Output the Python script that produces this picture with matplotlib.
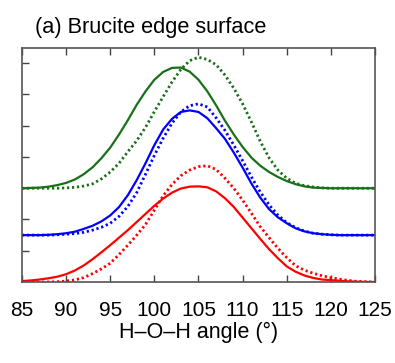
import numpy as np
import matplotlib
matplotlib.use('Agg')
import matplotlib.pyplot as plt

plt.rcParams['font.family'] = ['Liberation Sans', 'DejaVu Sans']

# H-O-H angle grid (degrees)
angle = list(range(85, 126))

# distributions, offset vertically (red 0, blue 1.5, green 3)
green_solid = [3.00, 3.01, 3.02, 3.05, 3.10, 3.17, 3.28, 3.45, 3.67, 3.96,
               4.30, 4.72, 5.18, 5.67, 6.10, 6.47, 6.72, 6.85, 6.86, 6.73,
               6.47, 6.10, 5.65, 5.16, 4.72, 4.32, 3.98, 3.72, 3.52, 3.36,
               3.23, 3.13, 3.06, 3.02, 3.01, 3.00, 3.00, 3.00, 3.00, 3.00, 3.00]
green_dot = [3.00, 3.00, 3.00, 3.00, 3.00, 3.01, 3.03, 3.07, 3.14, 3.30,
             3.52, 3.80, 4.17, 4.52, 4.95, 5.45, 5.93, 6.40, 6.80, 7.08,
             7.19, 7.12, 6.95, 6.62, 6.20, 5.70, 5.12, 4.50, 3.97, 3.58,
             3.32, 3.16, 3.08, 3.04, 3.01, 3.00, 3.00, 3.00, 3.00, 3.00, 3.00]
blue_solid = [1.50, 1.50, 1.50, 1.51, 1.53, 1.56, 1.61, 1.70, 1.80, 1.94,
              2.13, 2.40, 2.78, 3.26, 3.80, 4.38, 4.88, 5.22, 5.44, 5.49,
              5.44, 5.24, 4.92, 4.58, 4.14, 3.66, 3.15, 2.70, 2.33, 2.07,
              1.88, 1.72, 1.62, 1.56, 1.53, 1.51, 1.50, 1.50, 1.50, 1.50, 1.50]
blue_dot = [1.50, 1.50, 1.50, 1.50, 1.51, 1.53, 1.55, 1.59, 1.66, 1.75,
            1.88, 2.10, 2.42, 2.86, 3.45, 4.05, 4.60, 5.08, 5.44, 5.64,
            5.70, 5.60, 5.25, 4.85, 4.38, 3.88, 3.36, 2.88, 2.47, 2.14,
            1.90, 1.74, 1.63, 1.56, 1.53, 1.51, 1.50, 1.50, 1.50, 1.50, 1.50]
red_solid = [0.03, 0.05, 0.08, 0.12, 0.17, 0.25, 0.37, 0.53, 0.73, 0.95,
             1.18, 1.42, 1.66, 1.92, 2.18, 2.44, 2.67, 2.86, 2.99, 3.05,
             3.06, 3.03, 2.90, 2.68, 2.40, 2.06, 1.72, 1.38, 1.05, 0.76,
             0.50, 0.33, 0.21, 0.13, 0.08, 0.06, 0.04, 0.02, 0.01, 0.00, 0.00]
red_dot = [0.00, 0.00, 0.00, 0.00, 0.01, 0.03, 0.07, 0.14, 0.27, 0.42,
           0.60, 0.88, 1.18, 1.50, 1.84, 2.30, 2.76, 3.12, 3.40, 3.58,
           3.69, 3.72, 3.60, 3.32, 3.00, 2.62, 2.20, 1.77, 1.42, 1.08,
           0.78, 0.52, 0.38, 0.28, 0.20, 0.14, 0.09, 0.05, 0.02, 0.01, 0.00]

xticks = [85, 90, 95, 100, 105, 110, 115, 120, 125]

green = '#187018'
dots = (0, (0.8, 1.0))

fig = plt.figure(figsize=(3.95, 3.63), dpi=100)
ax = fig.add_axes([0.0557, 0.2231, 0.8936, 0.6459])

ax.plot(angle, green_solid, color=green, lw=1.6)
ax.plot(angle, green_dot, color=green, lw=2.0, ls=dots)
ax.plot(angle, blue_solid, color='blue', lw=1.6)
ax.plot(angle, blue_dot, color='blue', lw=2.0, ls=dots)
ax.plot(angle, red_solid, color='red', lw=1.6)
ax.plot(angle, red_dot, color='red', lw=2.0, ls=dots)

ax.set_xlim(85, 125)
ax.set_ylim(0, 7.5)
ax.set_xticks(xticks)
ax.set_yticks([1, 2, 3, 4, 5, 6, 7])
ax.set_yticklabels([])
ax.tick_params(axis='x', direction='in', top=True, length=5, width=1,
               labelsize=15, pad=14, color='#444444')
ax.tick_params(axis='y', direction='in', left=True, right=False, length=5,
               width=1, color='#444444')
for s in ax.spines.values():
    s.set_color('#555555')
    s.set_linewidth(1.2)

ax.set_xlabel('H\u2013O\u2013H angle (\u00b0)', fontsize=15.5, labelpad=1)
fig.text(0.0886, 0.908, '(a) Brucite edge surface', fontsize=15.7,
         ha='left', va='baseline')

fig.savefig('out.png', dpi=100)
